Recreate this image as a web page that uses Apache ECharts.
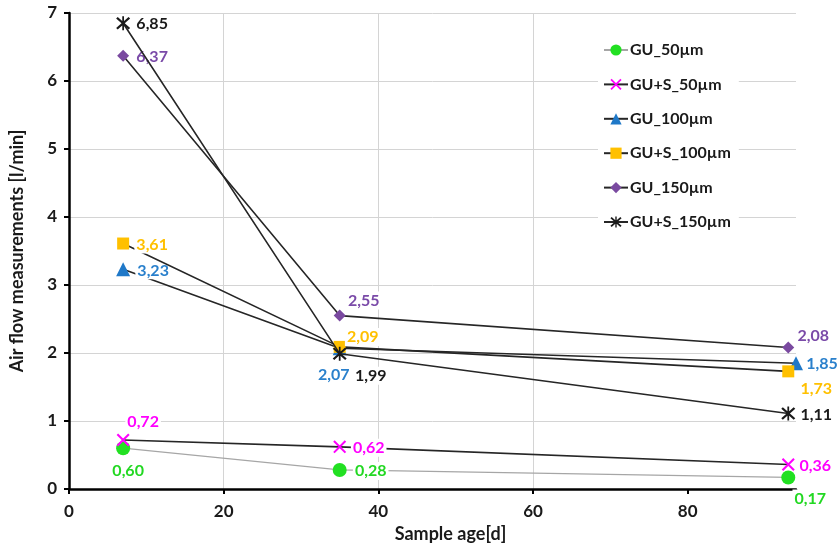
<!DOCTYPE html>
<html><head><meta charset="utf-8">
<script src="https://cdn.jsdelivr.net/npm/echarts@6/dist/echarts.min.js"></script>
<style>html,body{margin:0;padding:0;background:#fff}#c{width:839px;height:547px}</style>
</head><body><div id="c"></div>
<script>
const seriesNames = ['GU_50µm','GU+S_50µm','GU_100µm','GU+S_100µm','GU_150µm','GU+S_150µm'];
const ages = [[7,35,93],[7,35,93],[7,35,94],[7,35,93],[7,35,93],[7,35,93]];
const gu50 = [0.60,0.28,0.17];
const gus50 = [0.72,0.62,0.36];
const gu100 = [3.23,2.07,1.85];
const gus100 = [3.61,2.09,1.73];
const gu150 = [6.37,2.55,2.08];
const gus150 = [6.85,1.99,1.11];
const values = [gu50,gus50,gu100,gus100,gu150,gus150];
const xTicks = [0,20,40,60,80];
const yTicks = [0,1,2,3,4,5,6,7];

const labelOffsets = [
  [[5,23],[31,1],[22,21]],
  [[20,-18],[29,1],[27,1]],
  [[30,1],[-6,27],[26,1]],
  [[29,1],[23,-10],[28,17]],
  [[29,1],[24,-15],[25,-12]],
  [[29,1],[31,22],[28,1]]
];
const markerColors = ['#22e022','#ff00ff','#1f78c8','#ffc000','#7a4aa0','#1a1a1a'];
const labelColors = ['#22d822','#ff00ff','#2a80cc','#ffc000','#7a4aa8','#1a1a1a'];
const xPath = 'path://M2,3.8L3.8,2L18,16.2L16.2,18Z M16.2,2L18,3.8L3.8,18L2,16.2Z';
const starPath = 'path://M2,3.8L3.8,2L18,16.2L16.2,18Z M16.2,2L18,3.8L3.8,18L2,16.2Z M9,1L11,1L11,19L9,19Z';
const symbols = ['circle', xPath, 'triangle', 'rect', 'diamond', starPath];
const symbolSizes = [14, 13, 14, 12, 12, 14];
const font = 'Lato, "Open Sans", sans-serif';
const grid = '#d4d4d4';

const fmt = v => v.toFixed(2).replace('.', ',');

const series = seriesNames.map((name, i) => ({
  name: name,
  type: 'line',
  symbol: symbols[i],
  symbolSize: symbolSizes[i],
  z: 2 + i,
  lineStyle: { color: i === 0 ? '#a6a6a6' : '#262626', width: i === 0 ? 1.2 : 1.6 },
  itemStyle: { color: markerColors[i] },
  emphasis: { disabled: true },
  data: values[i].map((v, j) => ({
    value: [ages[i][j], v],
    label: { offset: labelOffsets[i][j] }
  })),
  label: {
    show: true,
    position: 'inside',
    align: 'center',
    verticalAlign: 'middle',
    formatter: p => fmt(p.value[1]),
    color: labelColors[i],
    fontFamily: font,
    fontSize: 16,
    fontWeight: 'bold',
    backgroundColor: '#fff',
    padding: [1, 2]
  }
}));

const chart = echarts.init(document.getElementById('c'));
chart.setOption({
  animation: false,
  backgroundColor: '#fff',
  grid: { show: false, borderWidth: 0, left: 69, right: 43, top: 13, bottom: 58, containLabel: false, outerBoundsMode: 'none' },
  legend: {
    orient: 'vertical',
    left: 598,
    top: 38,
    backgroundColor: '#fff',
    padding: [4, 8, 4, 5],
    itemWidth: 24,
    itemHeight: 14,
    itemGap: 18.4,
    data: seriesNames,
    textStyle: { fontFamily: font, fontSize: 16, fontWeight: 'bold', color: '#1a1a1a', padding: [0, 0, 0, -3] }
  },
  xAxis: {
    type: 'value',
    min: 0, max: 94,
    name: 'Sample age[d]',
    nameLocation: 'middle',
    nameGap: 36,
    nameTextStyle: { fontFamily: font, fontSize: 18, fontWeight: 'bold', color: '#1a1a1a', padding: [0, 0, 0, 36] },
    axisLine: { show: true, onZero: false, lineStyle: { color: '#000', width: 2.5 } },
    axisTick: { show: true, length: 5, customValues: xTicks, lineStyle: { color: '#000', width: 2 } },
    axisLabel: { fontFamily: font, fontSize: 17, fontWeight: 'bold', color: '#1a1a1a', margin: 14, customValues: xTicks },
    splitLine: { show: true, showMinLine: false, showMaxLine: false, lineStyle: { color: grid, width: 1 } },
    splitArea: { show: false }
  },
  yAxis: {
    type: 'value',
    min: 0, max: 7, interval: 1,
    name: 'Air flow measurements [l/min]',
    nameLocation: 'middle',
    nameGap: 43,
    nameTextStyle: { fontFamily: font, fontSize: 18, fontWeight: 'bold', color: '#1a1a1a' },
    axisLine: { show: true, lineStyle: { color: '#000', width: 2.5 } },
    axisTick: { show: true, length: 5, lineStyle: { color: '#000', width: 2 } },
    axisLabel: { fontFamily: font, fontSize: 17, fontWeight: 'bold', color: '#1a1a1a', margin: 12,
      formatter: v => yTicks.includes(v) ? String(v) : '' },
    splitLine: { show: true, lineStyle: { color: grid, width: 1 } },
    splitArea: { show: false }
  },
  series: series
});
</script></body></html>
